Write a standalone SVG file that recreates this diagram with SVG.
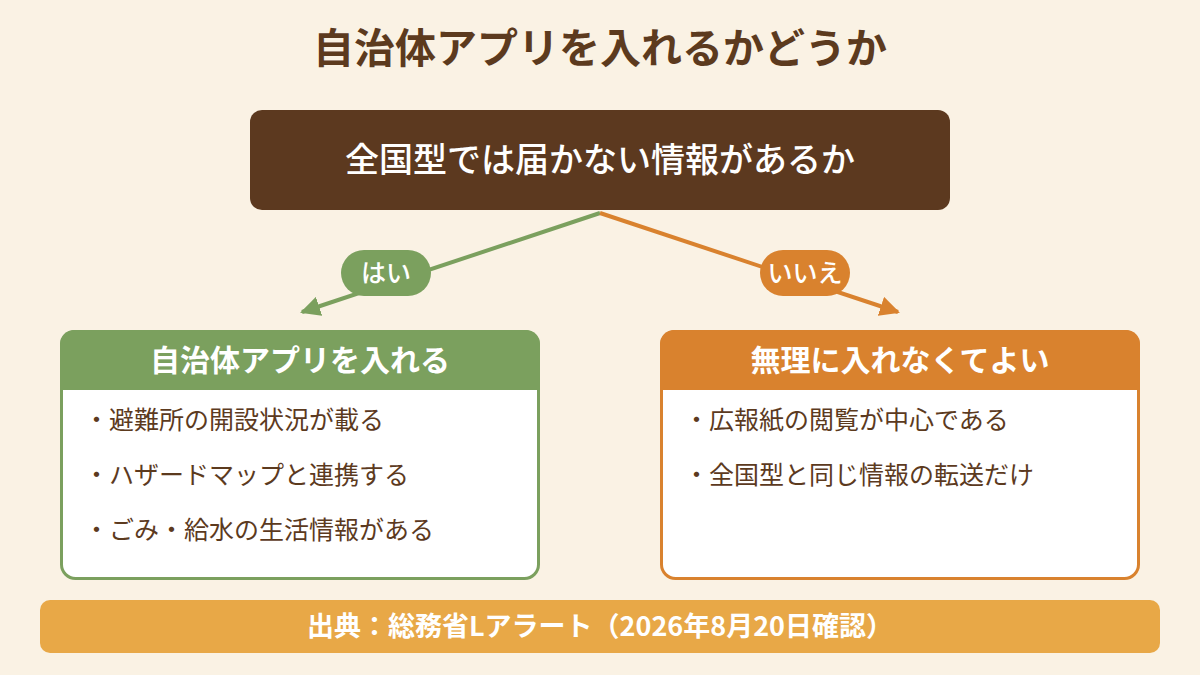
<svg xmlns="http://www.w3.org/2000/svg" width="1200" height="675" viewBox="0 0 1200 675">
<defs>
<style>
text{font-family:"Noto Sans CJK JP","Noto Sans",sans-serif;}
.title{font-size:41px;font-weight:700;fill:#5C3A1E;text-anchor:middle;}
.q{font-size:34px;font-weight:500;fill:#FFFFFF;text-anchor:middle;}
.pill{font-size:25px;font-weight:500;fill:#FFFFFF;text-anchor:middle;}
.hdr{font-size:30px;font-weight:700;fill:#FFFFFF;text-anchor:middle;}
.item{font-size:25px;fill:#5C3A1E;}
.foot{font-size:27px;font-weight:700;fill:#FFFFFF;text-anchor:middle;}
</style>
<marker id="ag" viewBox="0 0 10 10" refX="9" refY="5" markerWidth="5" markerHeight="5" orient="auto" markerUnits="strokeWidth"><path d="M0,0 L10,5 L0,10 z" fill="#7BA05E"/></marker>
<marker id="ao" viewBox="0 0 10 10" refX="9" refY="5" markerWidth="5" markerHeight="5" orient="auto" markerUnits="strokeWidth"><path d="M0,0 L10,5 L0,10 z" fill="#D9822E"/></marker>
</defs>
<rect width="1200" height="675" fill="#FAF2E4"/>
<text class="title" x="600" y="63">自治体アプリを入れるかどうか</text>
<g id="connectors">
<line x1="600" y1="213" x2="302" y2="312" stroke="#7BA05E" stroke-width="4" marker-end="url(#ag)"/>
<line x1="600" y1="213" x2="898" y2="312" stroke="#D9822E" stroke-width="4" marker-end="url(#ao)"/>
</g>
<g id="question">
<rect x="250" y="110" width="700" height="100" rx="12" fill="#5C391F"/>
<text class="q" x="600" y="172">全国型では届かない情報があるか</text>
</g>
<g id="yes-label">
<rect x="341" y="250" width="90" height="46" rx="23" fill="#7BA05E"/>
<text class="pill" x="386" y="282">はい</text>
</g>
<g id="no-label">
<rect x="760" y="250" width="90" height="46" rx="23" fill="#D9822E"/>
<text class="pill" x="805" y="282">いいえ</text>
</g>
<g id="yes-box">
<rect x="61.5" y="331.5" width="477" height="247" rx="14" fill="#FFFFFF" stroke="#7BA05E" stroke-width="3"/>
<path d="M60,390 V344 A14,14 0 0 1 74,330 H526 A14,14 0 0 1 540,344 V390 Z" fill="#7BA05E"/>
<text class="hdr" x="300" y="371">自治体アプリを入れる</text>
<text class="item" x="84" y="429">・避難所の開設状況が載る</text>
<text class="item" x="84" y="484">・ハザードマップと連携する</text>
<text class="item" x="84" y="539">・ごみ・給水の生活情報がある</text>
</g>
<g id="no-box">
<rect x="661.5" y="331.5" width="477" height="247" rx="14" fill="#FFFFFF" stroke="#D9822E" stroke-width="3"/>
<path d="M660,390 V344 A14,14 0 0 1 674,330 H1126 A14,14 0 0 1 1140,344 V390 Z" fill="#D9822E"/>
<text class="hdr" x="900" y="371">無理に入れなくてよい</text>
<text class="item" x="684" y="429">・広報紙の閲覧が中心である</text>
<text class="item" x="684" y="484">・全国型と同じ情報の転送だけ</text>
</g>
<g id="source">
<rect x="40" y="600" width="1120" height="53" rx="10" fill="#E8A847"/>
<text class="foot" x="600" y="636">出典：総務省Lアラート（2026年8月20日確認）</text>
</g>
</svg>
